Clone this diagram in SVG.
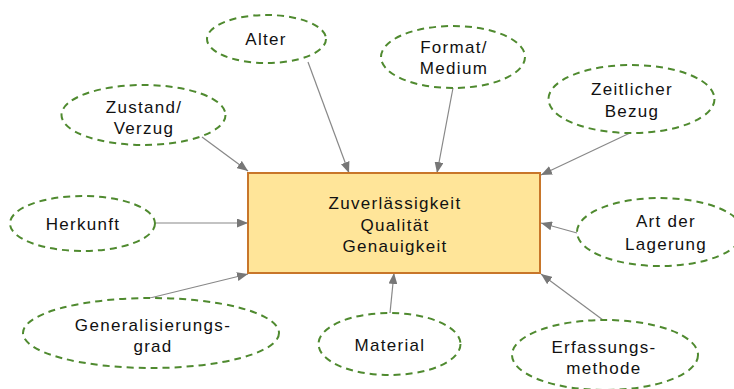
<svg xmlns="http://www.w3.org/2000/svg" width="734" height="389" viewBox="0 0 734 389">
<style>
.n ellipse{fill:#fff;stroke:#4f8a2f;stroke-width:2;stroke-dasharray:7 5}
text{font-family:"Liberation Sans",Arial,sans-serif;font-size:17px;letter-spacing:1.3px;fill:#111;text-anchor:middle}
.c line{stroke:#888;stroke-width:1.2;marker-end:url(#ah)}
</style>
<defs>
<marker id="ah" markerUnits="userSpaceOnUse" markerWidth="11" markerHeight="9" refX="11" refY="4.5" orient="auto">
<path d="M0,0 L11,4.5 L0,9 z" fill="#777"/>
</marker>
</defs>
<rect width="734" height="389" fill="#fff"/>
<g id="connectors" class="c">
<line x1="308" y1="62" x2="349" y2="173"/>
<line x1="453" y1="88" x2="437" y2="173"/>
<line x1="630" y1="133" x2="541" y2="175"/>
<line x1="577" y1="233" x2="541" y2="223"/>
<line x1="603" y1="320" x2="541" y2="274"/>
<line x1="390" y1="313" x2="394" y2="273"/>
<line x1="150" y1="298" x2="248" y2="274"/>
<line x1="155" y1="223" x2="248" y2="223"/>
<line x1="202" y1="137" x2="248" y2="171"/>
</g>
<g id="center">
<rect x="248" y="173" width="292" height="100" fill="#ffe599" stroke="#c8762a" stroke-width="2"/>
<text x="395" y="209">Zuverlässigkeit</text>
<text x="395" y="231">Qualität</text>
<text x="395" y="252">Genauigkeit</text>
</g>
<g id="alter" class="n">
<ellipse cx="266.5" cy="39" rx="59.5" ry="24"/>
<text x="266" y="45">Alter</text>
</g>
<g id="format" class="n">
<ellipse cx="453" cy="57" rx="72" ry="31"/>
<text x="454" y="53">Format/</text>
<text x="454" y="74">Medium</text>
</g>
<g id="zeitlicher" class="n">
<ellipse cx="631.5" cy="99" rx="83" ry="34"/>
<text x="632" y="95">Zeitlicher</text>
<text x="632" y="117">Bezug</text>
</g>
<g id="lagerung" class="n">
<ellipse cx="660" cy="232" rx="83" ry="34"/>
<text x="666" y="227">Art der</text>
<text x="666" y="250">Lagerung</text>
</g>
<g id="erfassung" class="n">
<ellipse cx="605" cy="355" rx="93" ry="35"/>
<text x="604" y="353">Erfassungs-</text>
<text x="604" y="374">methode</text>
</g>
<g id="material" class="n">
<ellipse cx="389.5" cy="344" rx="71" ry="31"/>
<text x="390" y="351">Material</text>
</g>
<g id="generalisierung" class="n">
<ellipse cx="151" cy="333" rx="128" ry="35"/>
<text x="153" y="331">Generalisierungs-</text>
<text x="153" y="352">grad</text>
</g>
<g id="herkunft" class="n">
<ellipse cx="82.5" cy="223.5" rx="72.5" ry="27.5"/>
<text x="83" y="230">Herkunft</text>
</g>
<g id="zustand" class="n">
<ellipse cx="143.5" cy="115" rx="82" ry="30"/>
<text x="144" y="113">Zustand/</text>
<text x="144" y="134">Verzug</text>
</g>
</svg>
